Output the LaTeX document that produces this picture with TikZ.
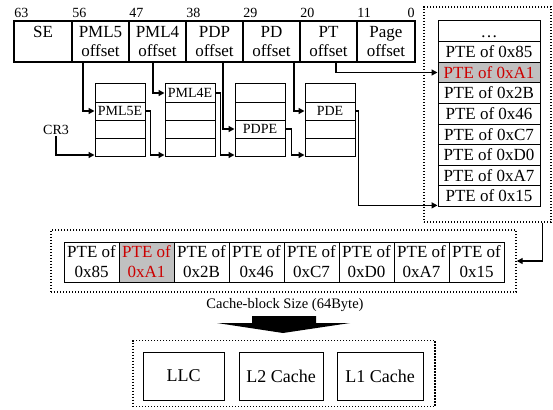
\documentclass[tikz,border=0pt]{standalone}
\usepackage{fontspec}
\setmainfont{Liberation Serif}
\usetikzlibrary{arrows.meta,calc}
\definecolor{hlred}{RGB}{204,0,0}
\definecolor{hlgray}{RGB}{192,192,192}
\begin{document}
\begin{tikzpicture}[x=1pt,y=-1pt,
 fieldbox/.style={draw,line width=1.1pt,minimum height=41pt,inner sep=0pt,align=center,font=\fontsize{17}{19}\selectfont},
 bitlbl/.style={inner xsep=0.8pt,inner ysep=3pt,font=\fontsize{14}{16}\selectfont},
 tblrow/.style={draw,line width=1pt,minimum width=50pt,minimum height=18pt,inner sep=0pt,font=\fontsize{14}{16}\selectfont},
 pterow/.style={draw,line width=1pt,minimum width=102pt,minimum height=20.6pt,inner sep=0pt,text height=11.5pt,text depth=0pt,font=\fontsize{17}{19}\selectfont},
 cellbox/.style={draw,line width=1pt,minimum width=55pt,minimum height=40pt,inner sep=0pt,align=center,font=\fontsize{17}{20}\selectfont},
 hl/.style={fill=hlgray,text=hlred},
 dotbox/.style={draw,line width=1.4pt,dash pattern=on 1.4pt off 1.6pt,inner sep=0pt},
 cachebox/.style={draw,line width=1pt,minimum height=48pt,inner sep=0pt,font=\fontsize{18}{20}\selectfont},
 arr/.style={line width=1.3pt,-{Triangle[length=6pt,width=6pt]}},
]
\useasboundingbox (0,0) rectangle (553,409);

% address fields
\node[fieldbox,minimum width=58pt] (fSE) at (43,41.5) {SE\\\phantom{o}};
\node[fieldbox,minimum width=57pt] (fP5) at (100.5,41.5) {PML5\\offset};
\node[fieldbox,minimum width=57pt] (fP4) at (157.5,41.5) {PML4\\offset};
\node[fieldbox,minimum width=57pt] (fPDP) at (214.5,41.5) {PDP\\offset};
\node[fieldbox,minimum width=57pt] (fPD) at (271.5,41.5) {PD\\offset};
\node[fieldbox,minimum width=57pt] (fPT) at (328.5,41.5) {PT\\offset};
\node[fieldbox,minimum width=58pt] (fPG) at (386,41.5) {Page\\offset};

% bit numbers
\node[bitlbl,anchor=south west] (b63) at (fSE.north west) {63};
\node[bitlbl,anchor=south west] (b56) at (fP5.north west) {56};
\node[bitlbl,anchor=south west] (b47) at (fP4.north west) {47};
\node[bitlbl,anchor=south west] (b38) at (fPDP.north west) {38};
\node[bitlbl,anchor=south west] (b29) at (fPD.north west) {29};
\node[bitlbl,anchor=south west] (b20) at (fPT.north west) {20};
\node[bitlbl,anchor=south west] (b11) at (fPG.north west) {11};
\node[bitlbl,anchor=south east] (b0) at (fPG.north east) {0};

% PML5 table
\node[tblrow] (p5a) at (120,93) {};
\node[tblrow] (p5b) at (120,111) {PML5E};
\node[tblrow] (p5c) at (120,129) {};
\node[tblrow] (p5d) at (120,147) {};
% PML4 table
\node[tblrow] (p4a) at (190,93) {PML4E};
\node[tblrow] (p4b) at (190,111) {};
\node[tblrow] (p4c) at (190,129) {};
\node[tblrow] (p4d) at (190,147) {};
% PDP table
\node[tblrow] (p3a) at (260,93) {};
\node[tblrow] (p3b) at (260,111) {};
\node[tblrow] (p3c) at (260,129) {PDPE};
\node[tblrow] (p3d) at (260,147) {};
% PD table
\node[tblrow] (pda) at (330,93) {};
\node[tblrow] (pdb) at (330,111) {PDE};
\node[tblrow] (pdc) at (330,129) {};
\node[tblrow] (pdd) at (330,147) {};

\node[inner sep=1pt,font=\fontsize{14}{16}\selectfont] (cr3) at (56,130) {CR3};

% PTE table
\node[dotbox,minimum width=127pt,minimum height=215pt] (ptebox) at (487.5,114.5) {};
\node[pterow] (pt0) at (489,31.3) {\dots};
\node[pterow] (pt85) at (489,51.9) {PTE of 0x85};
\node[pterow,hl] (ptA1) at (489,72.5) {PTE of 0xA1};
\node[pterow] (pt2B) at (489,93.1) {PTE of 0x2B};
\node[pterow] (pt46) at (489,113.7) {PTE of 0x46};
\node[pterow] (ptC7) at (489,134.3) {PTE of 0xC7};
\node[pterow] (ptD0) at (489,154.9) {PTE of 0xD0};
\node[pterow] (ptA7) at (489,175.5) {PTE of 0xA7};
\node[pterow] (pt15) at (489,196.1) {PTE of 0x15};

% cache line row
\node[dotbox,minimum width=465pt,minimum height=62pt] (rowbox) at (283.5,261) {};
\node[cellbox] (c85) at (91.5,262) {PTE of\\0x85};
\node[cellbox,hl] (cA1) at (146.5,262) {PTE of\\0xA1};
\node[cellbox] (c2B) at (201.5,262) {PTE of\\0x2B};
\node[cellbox] (c46) at (256.5,262) {PTE of\\0x46};
\node[cellbox] (cC7) at (311.5,262) {PTE of\\0xC7};
\node[cellbox] (cD0) at (366.5,262) {PTE of\\0xD0};
\node[cellbox] (cA7) at (421.5,262) {PTE of\\0xA7};
\node[cellbox] (c15) at (476.5,262) {PTE of\\0x15};

\node[inner sep=1pt,font=\fontsize{14.5}{16}\selectfont] (cap) at (285,305) {Cache-block Size (64Byte)};
\fill (252,316) -- (316,316) -- (316,323) -- (350,323) -- (283,333) -- (217,323) -- (252,323) -- cycle;

% caches
\node[dotbox,minimum width=302pt,minimum height=66pt] (cachegrp) at (284,373.5) {};
\node[cachebox,minimum width=81pt] (llc) at (183.5,376) {LLC};
\node[cachebox,minimum width=84pt] (l2) at (281,376) {L2 Cache};
\node[cachebox,minimum width=86pt] (l1) at (380,376) {L1 Cache};

% connectors
\draw[arr] ([xshift=-17.5pt]fP5.south) |- (p5b.west);
\draw[arr] ([xshift=-4.5pt]fP4.south) |- (p4a.west);
\draw[arr] ([xshift=8.5pt]fPDP.south) |- (p3c.west);
\draw[arr] ([xshift=22.5pt]fPD.south) |- (pdb.west);
\draw[arr] ([xshift=7.5pt]fPT.south) |- (ptA1.west);
\draw[arr] (cr3.south) |- ([yshift=1.5pt]p5d.south west);
\draw[arr] (p5b.east) -- ++(5,0) |- ([yshift=1.5pt]p4d.south west);
\draw[arr] (p4a.east) -- ++(5,0) |- ([yshift=1.5pt]p3d.south west);
\draw[arr] (p3c.east) -- ++(6,0) |- ([yshift=1.5pt]pdd.south west);
\draw[arr] (pdb.east) -- ++(3,0) |- ([yshift=1.5pt]pt15.south west);
\draw[arr] ([xshift=-9pt]ptebox.south east) |- (rowbox.east);
\end{tikzpicture}
\end{document}
